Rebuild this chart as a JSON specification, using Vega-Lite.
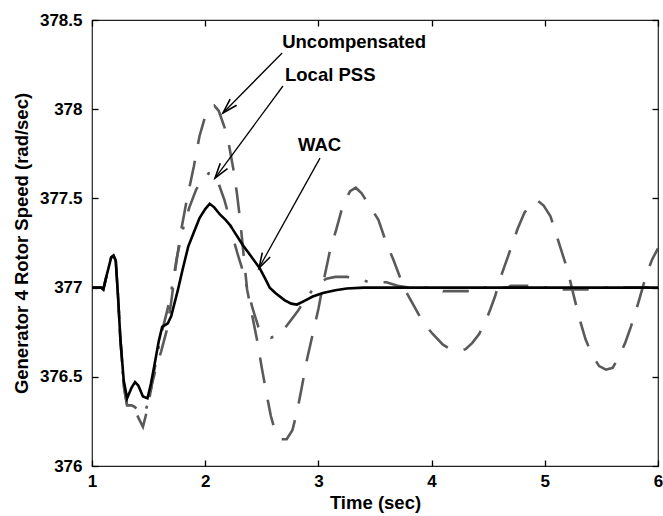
{
  "$schema": "https://vega.github.io/schema/vega-lite/v6.json",
  "width": 566,
  "height": 446,
  "autosize": {"type": "none"},
  "padding": {"left": 92, "top": 20, "right": 5, "bottom": 50},
  "background": "white",
  "config": {
    "view": {"stroke": "#222222", "strokeWidth": 1.2},
    "font": "Liberation Sans",
    "axis": {"grid": false, "domain": false, "labelFlush": false, "labelFont": "Liberation Sans", "labelFontWeight": "bold", "labelFontSize": 17, "labelColor": "black", "titleFont": "Liberation Sans", "titleFontWeight": "bold", "titleFontSize": 18.5, "titleColor": "black"}
  },
  "datasets": {
    "curves": [
      {"series": "Uncompensated", "t": 1.0, "speed": 377.0},
      {"series": "Uncompensated", "t": 1.08, "speed": 377.0},
      {"series": "Uncompensated", "t": 1.1, "speed": 376.99},
      {"series": "Uncompensated", "t": 1.13, "speed": 377.07},
      {"series": "Uncompensated", "t": 1.17, "speed": 377.17},
      {"series": "Uncompensated", "t": 1.19, "speed": 377.18},
      {"series": "Uncompensated", "t": 1.21, "speed": 377.15},
      {"series": "Uncompensated", "t": 1.23, "speed": 376.95},
      {"series": "Uncompensated", "t": 1.25, "speed": 376.72},
      {"series": "Uncompensated", "t": 1.28, "speed": 376.45},
      {"series": "Uncompensated", "t": 1.31, "speed": 376.34},
      {"series": "Uncompensated", "t": 1.34, "speed": 376.34},
      {"series": "Uncompensated", "t": 1.37, "speed": 376.33},
      {"series": "Uncompensated", "t": 1.41, "speed": 376.27},
      {"series": "Uncompensated", "t": 1.45, "speed": 376.22},
      {"series": "Uncompensated", "t": 1.49, "speed": 376.32},
      {"series": "Uncompensated", "t": 1.53, "speed": 376.46},
      {"series": "Uncompensated", "t": 1.57, "speed": 376.56},
      {"series": "Uncompensated", "t": 1.61, "speed": 376.64},
      {"series": "Uncompensated", "t": 1.66, "speed": 376.76},
      {"series": "Uncompensated", "t": 1.7, "speed": 376.92},
      {"series": "Uncompensated", "t": 1.74, "speed": 377.12},
      {"series": "Uncompensated", "t": 1.79, "speed": 377.33},
      {"series": "Uncompensated", "t": 1.84, "speed": 377.5},
      {"series": "Uncompensated", "t": 1.9, "speed": 377.68},
      {"series": "Uncompensated", "t": 1.95, "speed": 377.85},
      {"series": "Uncompensated", "t": 2.0, "speed": 377.96},
      {"series": "Uncompensated", "t": 2.04, "speed": 378.01},
      {"series": "Uncompensated", "t": 2.08, "speed": 378.02},
      {"series": "Uncompensated", "t": 2.12, "speed": 377.99},
      {"series": "Uncompensated", "t": 2.17, "speed": 377.9},
      {"series": "Uncompensated", "t": 2.21, "speed": 377.8},
      {"series": "Uncompensated", "t": 2.25, "speed": 377.66},
      {"series": "Uncompensated", "t": 2.28, "speed": 377.53},
      {"series": "Uncompensated", "t": 2.31, "speed": 377.37},
      {"series": "Uncompensated", "t": 2.34, "speed": 377.18},
      {"series": "Uncompensated", "t": 2.37, "speed": 376.99},
      {"series": "Uncompensated", "t": 2.41, "speed": 376.86},
      {"series": "Uncompensated", "t": 2.46, "speed": 376.7},
      {"series": "Uncompensated", "t": 2.5, "speed": 376.55},
      {"series": "Uncompensated", "t": 2.54, "speed": 376.41},
      {"series": "Uncompensated", "t": 2.58, "speed": 376.28},
      {"series": "Uncompensated", "t": 2.62, "speed": 376.19},
      {"series": "Uncompensated", "t": 2.67, "speed": 376.15},
      {"series": "Uncompensated", "t": 2.72, "speed": 376.15},
      {"series": "Uncompensated", "t": 2.77, "speed": 376.2},
      {"series": "Uncompensated", "t": 2.81, "speed": 376.3},
      {"series": "Uncompensated", "t": 2.85, "speed": 376.43},
      {"series": "Uncompensated", "t": 2.9, "speed": 376.6},
      {"series": "Uncompensated", "t": 2.95, "speed": 376.74},
      {"series": "Uncompensated", "t": 3.0, "speed": 376.88},
      {"series": "Uncompensated", "t": 3.05, "speed": 377.05},
      {"series": "Uncompensated", "t": 3.1, "speed": 377.2},
      {"series": "Uncompensated", "t": 3.16, "speed": 377.33},
      {"series": "Uncompensated", "t": 3.22, "speed": 377.47},
      {"series": "Uncompensated", "t": 3.28, "speed": 377.54},
      {"series": "Uncompensated", "t": 3.33, "speed": 377.56},
      {"series": "Uncompensated", "t": 3.38, "speed": 377.53},
      {"series": "Uncompensated", "t": 3.45, "speed": 377.46},
      {"series": "Uncompensated", "t": 3.53, "speed": 377.38},
      {"series": "Uncompensated", "t": 3.6, "speed": 377.25},
      {"series": "Uncompensated", "t": 3.66, "speed": 377.16},
      {"series": "Uncompensated", "t": 3.72, "speed": 377.06},
      {"series": "Uncompensated", "t": 3.78, "speed": 376.97},
      {"series": "Uncompensated", "t": 3.85, "speed": 376.89},
      {"series": "Uncompensated", "t": 3.93, "speed": 376.8},
      {"series": "Uncompensated", "t": 4.01, "speed": 376.74},
      {"series": "Uncompensated", "t": 4.1, "speed": 376.68},
      {"series": "Uncompensated", "t": 4.18, "speed": 376.65},
      {"series": "Uncompensated", "t": 4.23, "speed": 376.64},
      {"series": "Uncompensated", "t": 4.3, "speed": 376.655},
      {"series": "Uncompensated", "t": 4.36, "speed": 376.69},
      {"series": "Uncompensated", "t": 4.42, "speed": 376.74},
      {"series": "Uncompensated", "t": 4.47, "speed": 376.8},
      {"series": "Uncompensated", "t": 4.52, "speed": 376.88},
      {"series": "Uncompensated", "t": 4.56, "speed": 376.95},
      {"series": "Uncompensated", "t": 4.6, "speed": 377.04},
      {"series": "Uncompensated", "t": 4.65, "speed": 377.13},
      {"series": "Uncompensated", "t": 4.7, "speed": 377.22},
      {"series": "Uncompensated", "t": 4.76, "speed": 377.33},
      {"series": "Uncompensated", "t": 4.82, "speed": 377.42},
      {"series": "Uncompensated", "t": 4.88, "speed": 377.47},
      {"series": "Uncompensated", "t": 4.93, "speed": 377.49},
      {"series": "Uncompensated", "t": 4.99, "speed": 377.46},
      {"series": "Uncompensated", "t": 5.05, "speed": 377.4},
      {"series": "Uncompensated", "t": 5.1, "speed": 377.3},
      {"series": "Uncompensated", "t": 5.15, "speed": 377.2},
      {"series": "Uncompensated", "t": 5.2, "speed": 377.1},
      {"series": "Uncompensated", "t": 5.25, "speed": 376.97},
      {"series": "Uncompensated", "t": 5.3, "speed": 376.84},
      {"series": "Uncompensated", "t": 5.36, "speed": 376.71},
      {"series": "Uncompensated", "t": 5.42, "speed": 376.62},
      {"series": "Uncompensated", "t": 5.48, "speed": 376.56},
      {"series": "Uncompensated", "t": 5.54, "speed": 376.54},
      {"series": "Uncompensated", "t": 5.6, "speed": 376.55},
      {"series": "Uncompensated", "t": 5.66, "speed": 376.62},
      {"series": "Uncompensated", "t": 5.71, "speed": 376.69},
      {"series": "Uncompensated", "t": 5.76, "speed": 376.78},
      {"series": "Uncompensated", "t": 5.81, "speed": 376.88},
      {"series": "Uncompensated", "t": 5.86, "speed": 376.99},
      {"series": "Uncompensated", "t": 5.9, "speed": 377.08},
      {"series": "Uncompensated", "t": 5.95, "speed": 377.16},
      {"series": "Uncompensated", "t": 6.0, "speed": 377.22},

      {"series": "Local PSS", "t": 1.0, "speed": 377.0},
      {"series": "Local PSS", "t": 1.08, "speed": 377.0},
      {"series": "Local PSS", "t": 1.1, "speed": 376.99},
      {"series": "Local PSS", "t": 1.13, "speed": 377.07},
      {"series": "Local PSS", "t": 1.17, "speed": 377.17},
      {"series": "Local PSS", "t": 1.19, "speed": 377.18},
      {"series": "Local PSS", "t": 1.21, "speed": 377.15},
      {"series": "Local PSS", "t": 1.23, "speed": 376.95},
      {"series": "Local PSS", "t": 1.25, "speed": 376.72},
      {"series": "Local PSS", "t": 1.28, "speed": 376.45},
      {"series": "Local PSS", "t": 1.31, "speed": 376.34},
      {"series": "Local PSS", "t": 1.35, "speed": 376.34},
      {"series": "Local PSS", "t": 1.38, "speed": 376.33},
      {"series": "Local PSS", "t": 1.42, "speed": 376.3},
      {"series": "Local PSS", "t": 1.46, "speed": 376.29},
      {"series": "Local PSS", "t": 1.5, "speed": 376.36},
      {"series": "Local PSS", "t": 1.54, "speed": 376.5},
      {"series": "Local PSS", "t": 1.58, "speed": 376.64},
      {"series": "Local PSS", "t": 1.62, "speed": 376.76},
      {"series": "Local PSS", "t": 1.66, "speed": 376.86},
      {"series": "Local PSS", "t": 1.69, "speed": 376.94},
      {"series": "Local PSS", "t": 1.75, "speed": 377.17},
      {"series": "Local PSS", "t": 1.8, "speed": 377.32},
      {"series": "Local PSS", "t": 1.86, "speed": 377.45},
      {"series": "Local PSS", "t": 1.92, "speed": 377.55},
      {"series": "Local PSS", "t": 1.98, "speed": 377.61},
      {"series": "Local PSS", "t": 2.03, "speed": 377.64},
      {"series": "Local PSS", "t": 2.07, "speed": 377.64},
      {"series": "Local PSS", "t": 2.12, "speed": 377.58},
      {"series": "Local PSS", "t": 2.17, "speed": 377.49},
      {"series": "Local PSS", "t": 2.21, "speed": 377.4},
      {"series": "Local PSS", "t": 2.25, "speed": 377.27},
      {"series": "Local PSS", "t": 2.29, "speed": 377.18},
      {"series": "Local PSS", "t": 2.33, "speed": 377.1},
      {"series": "Local PSS", "t": 2.37, "speed": 377.0},
      {"series": "Local PSS", "t": 2.42, "speed": 376.88},
      {"series": "Local PSS", "t": 2.47, "speed": 376.78},
      {"series": "Local PSS", "t": 2.52, "speed": 376.74},
      {"series": "Local PSS", "t": 2.58, "speed": 376.72},
      {"series": "Local PSS", "t": 2.64, "speed": 376.73},
      {"series": "Local PSS", "t": 2.7, "speed": 376.77},
      {"series": "Local PSS", "t": 2.76, "speed": 376.82},
      {"series": "Local PSS", "t": 2.82, "speed": 376.87},
      {"series": "Local PSS", "t": 2.88, "speed": 376.93},
      {"series": "Local PSS", "t": 2.94, "speed": 376.98},
      {"series": "Local PSS", "t": 3.0, "speed": 377.02},
      {"series": "Local PSS", "t": 3.07, "speed": 377.05},
      {"series": "Local PSS", "t": 3.15, "speed": 377.06},
      {"series": "Local PSS", "t": 3.25, "speed": 377.06},
      {"series": "Local PSS", "t": 3.35, "speed": 377.05},
      {"series": "Local PSS", "t": 3.45, "speed": 377.03},
      {"series": "Local PSS", "t": 3.6, "speed": 377.03},
      {"series": "Local PSS", "t": 3.7, "speed": 377.01},
      {"series": "Local PSS", "t": 3.8, "speed": 377.0},
      {"series": "Local PSS", "t": 4.05, "speed": 377.0},
      {"series": "Local PSS", "t": 4.1, "speed": 376.98},
      {"series": "Local PSS", "t": 4.35, "speed": 376.98},
      {"series": "Local PSS", "t": 4.4, "speed": 377.0},
      {"series": "Local PSS", "t": 4.67, "speed": 377.0},
      {"series": "Local PSS", "t": 4.7, "speed": 377.01},
      {"series": "Local PSS", "t": 4.95, "speed": 377.01},
      {"series": "Local PSS", "t": 5.0, "speed": 377.0},
      {"series": "Local PSS", "t": 5.12, "speed": 377.0},
      {"series": "Local PSS", "t": 5.15, "speed": 376.99},
      {"series": "Local PSS", "t": 5.4, "speed": 376.99},
      {"series": "Local PSS", "t": 5.45, "speed": 377.0},
      {"series": "Local PSS", "t": 6.0, "speed": 377.0},

      {"series": "WAC", "t": 1.0, "speed": 377.0},
      {"series": "WAC", "t": 1.08, "speed": 377.0},
      {"series": "WAC", "t": 1.1, "speed": 376.99},
      {"series": "WAC", "t": 1.13, "speed": 377.07},
      {"series": "WAC", "t": 1.17, "speed": 377.17},
      {"series": "WAC", "t": 1.19, "speed": 377.18},
      {"series": "WAC", "t": 1.21, "speed": 377.15},
      {"series": "WAC", "t": 1.23, "speed": 376.95},
      {"series": "WAC", "t": 1.25, "speed": 376.72},
      {"series": "WAC", "t": 1.28, "speed": 376.48},
      {"series": "WAC", "t": 1.31, "speed": 376.38},
      {"series": "WAC", "t": 1.35, "speed": 376.44},
      {"series": "WAC", "t": 1.38, "speed": 376.47},
      {"series": "WAC", "t": 1.41, "speed": 376.45},
      {"series": "WAC", "t": 1.45, "speed": 376.39},
      {"series": "WAC", "t": 1.49, "speed": 376.38},
      {"series": "WAC", "t": 1.52, "speed": 376.46},
      {"series": "WAC", "t": 1.55, "speed": 376.56},
      {"series": "WAC", "t": 1.59, "speed": 376.7},
      {"series": "WAC", "t": 1.62, "speed": 376.78},
      {"series": "WAC", "t": 1.67, "speed": 376.8},
      {"series": "WAC", "t": 1.7, "speed": 376.84},
      {"series": "WAC", "t": 1.76, "speed": 376.99},
      {"series": "WAC", "t": 1.8, "speed": 377.1},
      {"series": "WAC", "t": 1.85, "speed": 377.23},
      {"series": "WAC", "t": 1.9, "speed": 377.31},
      {"series": "WAC", "t": 1.95, "speed": 377.39},
      {"series": "WAC", "t": 2.0, "speed": 377.44},
      {"series": "WAC", "t": 2.04, "speed": 377.47},
      {"series": "WAC", "t": 2.08, "speed": 377.45},
      {"series": "WAC", "t": 2.13, "speed": 377.41},
      {"series": "WAC", "t": 2.18, "speed": 377.38},
      {"series": "WAC", "t": 2.22, "speed": 377.35},
      {"series": "WAC", "t": 2.27, "speed": 377.3},
      {"series": "WAC", "t": 2.33, "speed": 377.24},
      {"series": "WAC", "t": 2.4, "speed": 377.18},
      {"series": "WAC", "t": 2.48, "speed": 377.11},
      {"series": "WAC", "t": 2.53, "speed": 377.05},
      {"series": "WAC", "t": 2.57, "speed": 377.0},
      {"series": "WAC", "t": 2.62, "speed": 376.97},
      {"series": "WAC", "t": 2.7, "speed": 376.93},
      {"series": "WAC", "t": 2.76, "speed": 376.91},
      {"series": "WAC", "t": 2.81, "speed": 376.905},
      {"series": "WAC", "t": 2.86, "speed": 376.92},
      {"series": "WAC", "t": 2.95, "speed": 376.95},
      {"series": "WAC", "t": 3.04, "speed": 376.97},
      {"series": "WAC", "t": 3.15, "speed": 376.985},
      {"series": "WAC", "t": 3.25, "speed": 376.995},
      {"series": "WAC", "t": 3.4, "speed": 377.0},
      {"series": "WAC", "t": 3.6, "speed": 377.0},
      {"series": "WAC", "t": 6.0, "speed": 377.0}
    ],
    "notes": [
      {"label": "Uncompensated", "tx": 2.68, "ty": 378.374, "x1": 2.68, "y1": 378.315, "x2": 2.157, "y2": 377.979},
      {"label": "Local PSS", "tx": 2.705, "ty": 378.192, "x1": 2.687, "y1": 378.13, "x2": 2.087, "y2": 377.614},
      {"label": "WAC", "tx": 2.82, "ty": 377.797, "x1": 3.014, "y1": 377.726, "x2": 2.475, "y2": 377.11}
    ]
  },
  "resolve": {"axis": {"x": "independent", "y": "independent"}},
  "layer": [
    {
      "data": {"name": "curves"},
      "transform": [{"filter": "datum.series === 'Uncompensated'"}],
      "mark": {"type": "line", "color": "#5a5a5a", "strokeWidth": 2.6, "strokeDash": [26, 17], "clip": true},
      "encoding": {
        "x": {"field": "t", "type": "quantitative", "scale": {"domain": [1, 6], "nice": false, "zero": false},
          "axis": {"orient": "bottom", "values": [1, 2, 3, 4, 5, 6], "format": "d", "offset": -6, "tickSize": 6, "tickColor": "black", "tickWidth": 1.3, "labelPadding": 7, "title": "Time (sec)", "titlePadding": 4}},
        "y": {"field": "speed", "type": "quantitative", "scale": {"domain": [376, 378.5], "nice": false, "zero": false},
          "axis": {"orient": "left", "values": [376, 376.5, 377, 377.5, 378, 378.5], "format": ".1~f", "offset": -6, "tickSize": 6, "tickColor": "black", "tickWidth": 1.3, "labelPadding": 10, "title": "Generator 4 Rotor Speed (rad/sec)", "titlePadding": 8}},
        "order": {"field": "t", "type": "quantitative"}
      }
    },
    {
      "data": {"name": "curves"},
      "transform": [{"filter": "datum.series === 'Local PSS'"}],
      "mark": {"type": "line", "color": "#5a5a5a", "strokeWidth": 2.6, "strokeDash": [26, 16, 3, 16], "clip": true},
      "encoding": {
        "x": {"field": "t", "type": "quantitative", "axis": null},
        "y": {"field": "speed", "type": "quantitative", "axis": null},
        "order": {"field": "t", "type": "quantitative"}
      }
    },
    {
      "data": {"name": "curves"},
      "transform": [{"filter": "datum.series === 'WAC'"}],
      "mark": {"type": "line", "color": "black", "strokeWidth": 2.6, "clip": true},
      "encoding": {
        "x": {"field": "t", "type": "quantitative", "axis": null},
        "y": {"field": "speed", "type": "quantitative", "axis": null},
        "order": {"field": "t", "type": "quantitative"}
      }
    },
    {
      "data": {"name": "notes"},
      "mark": {"type": "rule", "color": "black", "strokeWidth": 1.3},
      "encoding": {
        "x": {"field": "x1", "type": "quantitative",
          "axis": {"orient": "top", "values": [1, 2, 3, 4, 5, 6], "labels": false, "offset": -6, "tickSize": 6, "tickColor": "black", "tickWidth": 1.3, "title": null}},
        "y": {"field": "y1", "type": "quantitative",
          "axis": {"orient": "right", "values": [376, 376.5, 377, 377.5, 378, 378.5], "labels": false, "offset": -6, "tickSize": 6, "tickColor": "black", "tickWidth": 1.3, "title": null}},
        "x2": {"field": "x2"},
        "y2": {"field": "y2"}
      }
    },
    {
      "data": {"name": "notes"},
      "mark": {"type": "text", "align": "left", "baseline": "middle", "font": "Liberation Sans", "fontWeight": "bold", "fontSize": 18.5, "color": "black"},
      "encoding": {
        "x": {"field": "tx", "type": "quantitative", "axis": null},
        "y": {"field": "ty", "type": "quantitative", "axis": null},
        "text": {"field": "label"}
      }
    },
    {
      "data": {"name": "notes"},
      "transform": [{"filter": "datum.label === 'Uncompensated'"}],
      "mark": {"type": "point", "shape": "M -0.6 2 L 0 0 L 0.6 2", "filled": false, "stroke": "black", "strokeWidth": 1.6, "size": 225, "angle": 224, "opacity": 1},
      "encoding": {
        "x": {"field": "x2", "type": "quantitative", "axis": null},
        "y": {"field": "y2", "type": "quantitative", "axis": null}
      }
    },
    {
      "data": {"name": "notes"},
      "transform": [{"filter": "datum.label === 'Local PSS'"}],
      "mark": {"type": "point", "shape": "M -0.6 2 L 0 0 L 0.6 2", "filled": false, "stroke": "black", "strokeWidth": 1.6, "size": 225, "angle": 216, "opacity": 1},
      "encoding": {
        "x": {"field": "x2", "type": "quantitative", "axis": null},
        "y": {"field": "y2", "type": "quantitative", "axis": null}
      }
    },
    {
      "data": {"name": "notes"},
      "transform": [{"filter": "datum.label === 'WAC'"}],
      "mark": {"type": "point", "shape": "M -0.6 2 L 0 0 L 0.6 2", "filled": false, "stroke": "black", "strokeWidth": 1.6, "size": 225, "angle": 209, "opacity": 1},
      "encoding": {
        "x": {"field": "x2", "type": "quantitative", "axis": null},
        "y": {"field": "y2", "type": "quantitative", "axis": null}
      }
    }
  ]
}
